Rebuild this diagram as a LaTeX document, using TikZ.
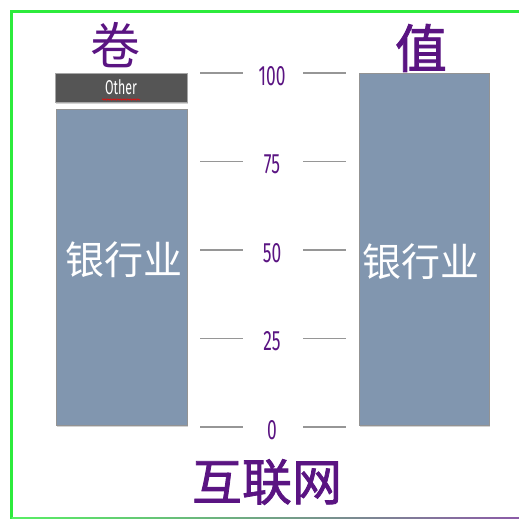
\documentclass[tikz,border=0pt]{standalone}
\usepackage{fontspec}
\setmainfont{Noto Sans CJK SC}
\newfontfamily\headfont[FakeBold=1.6]{Noto Sans CJK SC}
\newfontfamily\numfont[FakeStretch=0.62]{Fira Sans}
\usetikzlibrary{shadows,decorations.pathmorphing}
\definecolor{barblue}{RGB}{129,150,175}
\definecolor{othergray}{RGB}{85,85,85}
\definecolor{labpurple}{RGB}{90,20,130}
\definecolor{framegreen}{RGB}{45,235,60}
\definecolor{tickgray}{RGB}{150,150,150}
\newcommand{\tickstep}{88.5}
\tikzset{
    shadsty/.style={drop shadow={shadow xshift=1pt,shadow yshift=-1.5pt,opacity=0.35}},
    barsty/.style={draw=gray!85,fill=barblue,rectangle,line width=0.8pt,shadsty,inner sep=0pt},
    othersty/.style={draw=gray!70,fill=othergray,rectangle,line width=0.8pt,shadsty,inner sep=0pt,
        text=white,font=\numfont\fontsize{20}{20}\selectfont},
    ticksty/.style={draw=tickgray,line width=1.3pt},
    numsty/.style={text=labpurple,font=\numfont\fontsize{28}{28}\selectfont},
    headsty/.style={text=labpurple,font=\fontsize{50}{50}\selectfont},
    boldheadsty/.style={text=labpurple,font=\headfont\fontsize{50}{50}\selectfont},
    barlabsty/.style={text=white,font=\fontsize{39}{39}\selectfont},
}

\begin{document}
\begin{tikzpicture}[x=1pt,y=-1pt]
\useasboundingbox (0,0) rectangle (519,519);
\clip (0,0) rectangle (519,519);
% frame
\draw[framegreen,line width=3pt] (11.5,519) -- (11.5,11.5) -- (519,11.5);
\shade[left color=framegreen!80,right color=labpurple!70] (11.5,517.8) rectangle (519,519);

% left column
\node (other) [othersty,minimum width=132pt,minimum height=29pt] at (121,87.5) {Other};
\draw[red,line width=0.5pt,decorate,decoration={snake,amplitude=0.7pt,segment length=2.5pt}]
    (102,99.5) -- (140,99.5);
\node (volbar) [barsty,minimum width=131pt,minimum height=316pt] at (121.5,267) {};
\node (vollab) [barlabsty] at (124,260) {银行业};
\node (volhead) [headsty] at (115,45) {卷};

% right column
\node (valbar) [barsty,minimum width=130pt,minimum height=352pt] at (424,249) {};
\node (vallab) [barlabsty] at (421,262) {银行业};
\node (valhead) [boldheadsty,font=\headfont\fontsize{52}{52}\selectfont] at (421,48) {值};

% scale
\foreach \val [count=\i from 0] in {0,25,50,75,100}{
    \draw[ticksty] (200,427-\tickstep*\i) -- (243,427-\tickstep*\i);
    \draw[ticksty] (303,427-\tickstep*\i) -- (346,427-\tickstep*\i);
    \node (tick\i) [numsty] at (272,430-\tickstep*\i) {\val};
}

\node (title) [boldheadsty] at (267,482) {互联网};
\end{tikzpicture}
\end{document}
